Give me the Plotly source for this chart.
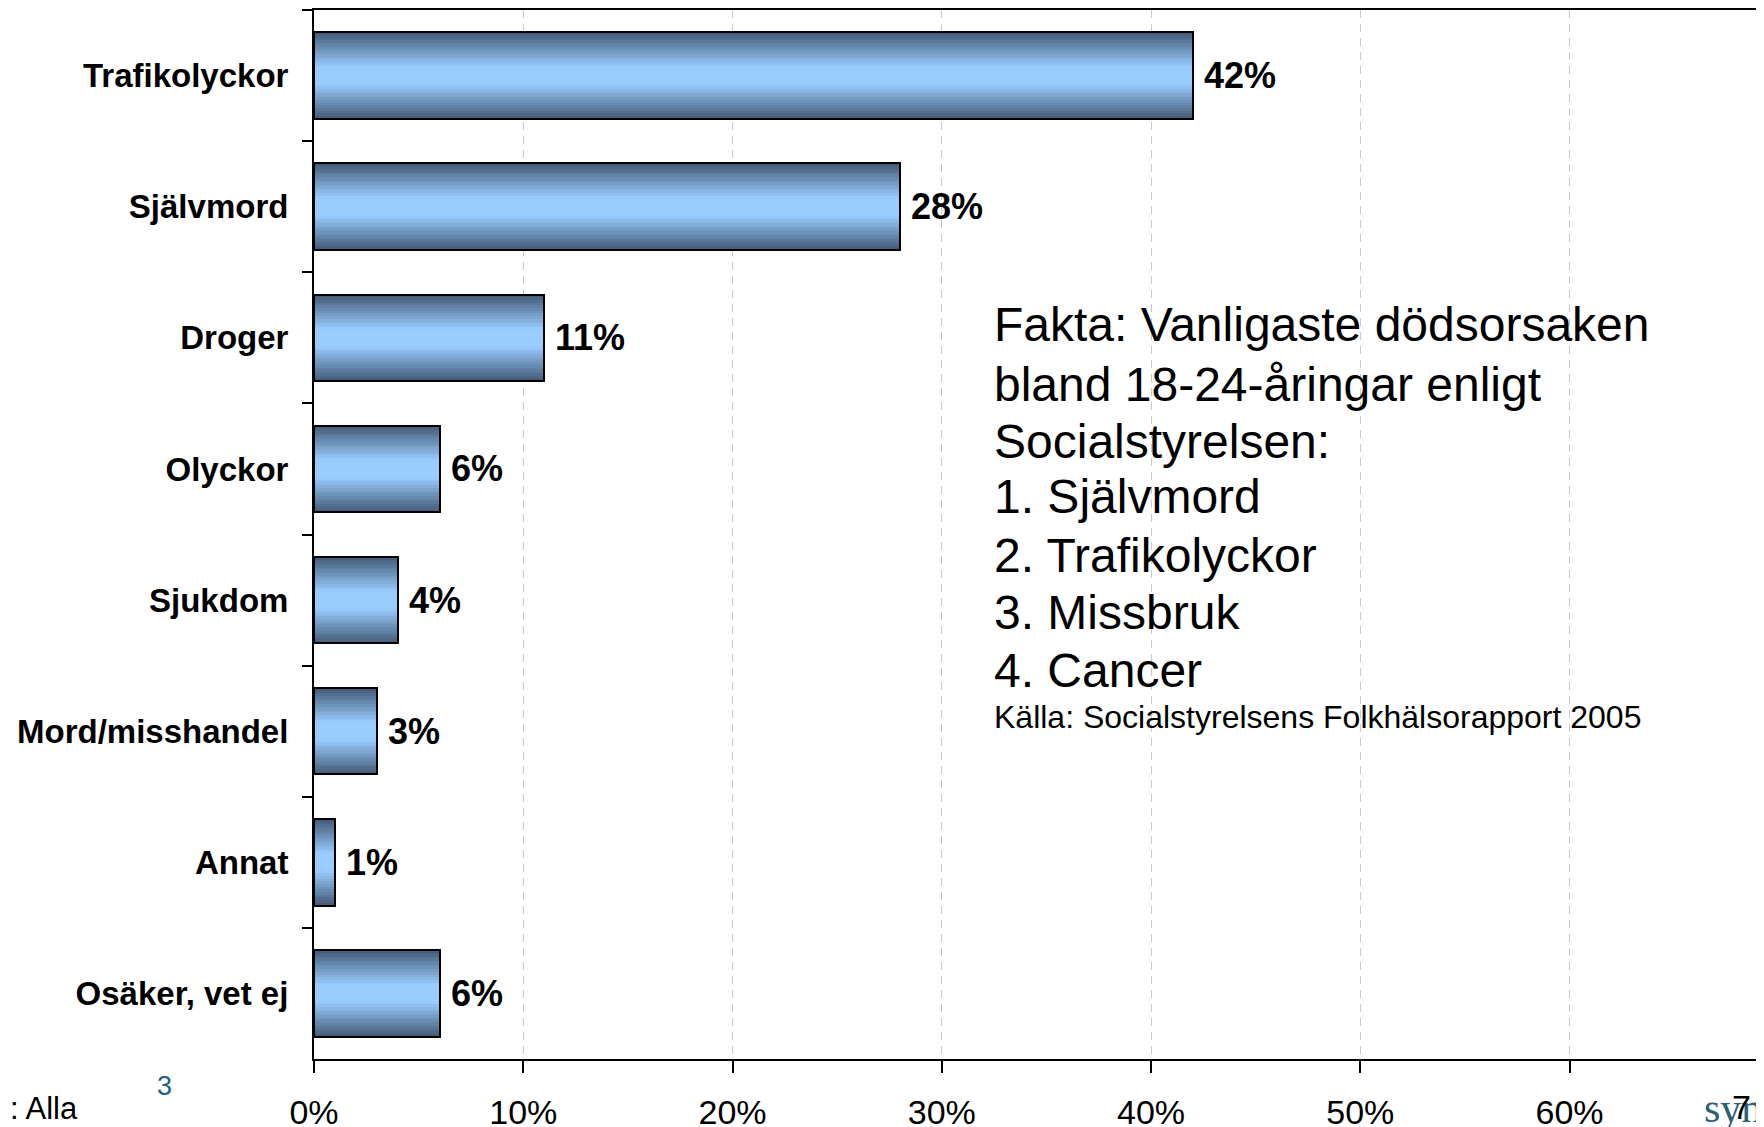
import plotly.graph_objects as go

# ---- data ----
categories = ["Trafikolyckor", "Självmord", "Droger", "Olyckor", "Sjukdom",
              "Mord/misshandel", "Annat", "Osäker, vet ej"]
values = [42, 28, 11, 6, 4, 3, 1, 6]
x_tick_values = [0, 10, 20, 30, 40, 50, 60]
x_tick_labels = ["0%", "10%", "20%", "30%", "40%", "50%", "60%"]

fact_lines = ["Fakta: Vanligaste dödsorsaken", "bland 18-24-åringar enligt",
              "Socialstyrelsen:", "1. Självmord", "2. Trafikolyckor",
              "3. Missbruk", "4. Cancer"]
source_text = "Källa: Socialstyrelsens Folkhälsorapport 2005"

# ---- layout geometry (page pixels; page body has an 8px margin) ----
PAGE_W, PAGE_H = 1764, 1127
BODY = 8
W, H = PAGE_W - BODY, PAGE_H - BODY
PLOT_LEFT, PLOT_TOP, PLOT_BOTTOM = 314, 10, 1059
L = PLOT_LEFT - BODY
T = PLOT_TOP - BODY
B = PAGE_H - PLOT_BOTTOM
R = 0
PLOT_W = PAGE_W - PLOT_LEFT
PLOT_H = PLOT_BOTTOM - PLOT_TOP


def pxx(px):
    return (px - PLOT_LEFT) / PLOT_W


def pxy(py):
    return (PLOT_BOTTOM - py) / PLOT_H


FONT = "Liberation Sans, Arial, sans-serif"

fig = go.Figure()

# gradient bars: layered bars of decreasing thickness
BAR_W = 0.66
N = 16
light = (153, 204, 255)
dark = (66, 88, 116)
for k in range(N):
    w = BAR_W * (1 - k / N)
    t = 1 - (k + 0.5) / N  # normalized distance from centre for visible band
    mix = max(0.0, min(1.0, (t - 0.2) / 0.8)) ** 1.0
    c = tuple(int(round(light[i] * (1 - mix) + dark[i] * mix)) for i in range(3))
    fig.add_trace(go.Bar(
        x=values, y=categories, orientation="h", width=w,
        marker=dict(color="rgb(%d,%d,%d)" % c, line=dict(width=0)),
        hoverinfo="skip", showlegend=False,
    ))

# outline on top
fig.add_trace(go.Bar(
    x=values, y=categories, orientation="h", width=BAR_W,
    marker=dict(color="rgba(0,0,0,0)", line=dict(color="#000000", width=2)),
    hoverinfo="skip", showlegend=False,
))

annotations = []
for cat, v in zip(categories, values):
    annotations.append(dict(
        x=v, y=cat, xref="x", yref="y", text="%d%%" % v,
        xanchor="left", yanchor="middle", xshift=9, showarrow=False,
        font=dict(family=FONT, size=36, color="#000000", weight="bold"),
    ))

line_y = [325, 384, 441, 497, 555, 612, 670]
for txt, py in zip(fact_lines, line_y):
    annotations.append(dict(
        x=pxx(992), y=pxy(py), xref="paper", yref="paper", text=txt,
        xanchor="left", yanchor="middle", showarrow=False,
        font=dict(family=FONT, size=48, color="#000000"),
    ))
annotations.append(dict(
    x=pxx(992), y=pxy(717), xref="paper", yref="paper", text=source_text,
    xanchor="left", yanchor="middle", showarrow=False,
    font=dict(family=FONT, size=32, color="#000000"),
))

# footer texts
annotations.append(dict(
    x=pxx(8), y=pxy(1108), xref="paper", yref="paper", text=": Alla",
    xanchor="left", yanchor="middle", showarrow=False,
    font=dict(family=FONT, size=31, color="#000000"),
))
annotations.append(dict(
    x=pxx(164), y=pxy(1086), xref="paper", yref="paper", text="3",
    xanchor="center", yanchor="middle", showarrow=False,
    font=dict(family=FONT, size=27, color="#1f5f7f"),
))
annotations.append(dict(
    x=pxx(1702), y=pxy(1108), xref="paper", yref="paper", text="synovate",
    xanchor="left", yanchor="middle", showarrow=False,
    font=dict(family="Liberation Serif, DejaVu Serif, serif", size=42, color="#2a5f78"),
))
annotations.append(dict(
    x=pxx(1741), y=pxy(1107), xref="paper", yref="paper", text="7",
    xanchor="center", yanchor="middle", showarrow=False,
    font=dict(family=FONT, size=34, color="#000000"),
))

fig.update_layout(
    template="none",
    width=W, height=H,
    margin=dict(l=L, r=R, t=T, b=B, pad=0, autoexpand=False),
    paper_bgcolor="#ffffff", plot_bgcolor="#ffffff",
    barmode="overlay", bargap=0,
    showlegend=False,
    annotations=annotations,
    xaxis=dict(
        automargin=False,
        range=[0, PLOT_W / 209.25 * 10],
        tickvals=x_tick_values, ticktext=x_tick_labels,
        ticks="outside", ticklen=12, tickwidth=2, tickcolor="#000000",
        showline=True, linecolor="#000000", linewidth=2, mirror=True,
        showgrid=True, gridcolor="#c8c8c8", gridwidth=1, griddash="8px,6px",
        zeroline=False,
        tickfont=dict(family=FONT, size=34, color="#000000"),
        ticklabelstandoff=10,
        fixedrange=True,
    ),
    yaxis=dict(
        automargin=False,
        type="category", categoryorder="array", categoryarray=categories,
        range=[len(categories) - 0.5, -0.5],
        tickson="boundaries", ticks="outside", ticklen=10, tickwidth=2,
        tickcolor="#000000",
        showline=True, linecolor="#000000", linewidth=2,
        showgrid=False, zeroline=False,
        tickfont=dict(family=FONT, size=33, color="#000000", weight="bold"),
        ticklabelstandoff=17,
        fixedrange=True,
    ),
)

fig.write_html("out.html", config={"displayModeBar": False})
